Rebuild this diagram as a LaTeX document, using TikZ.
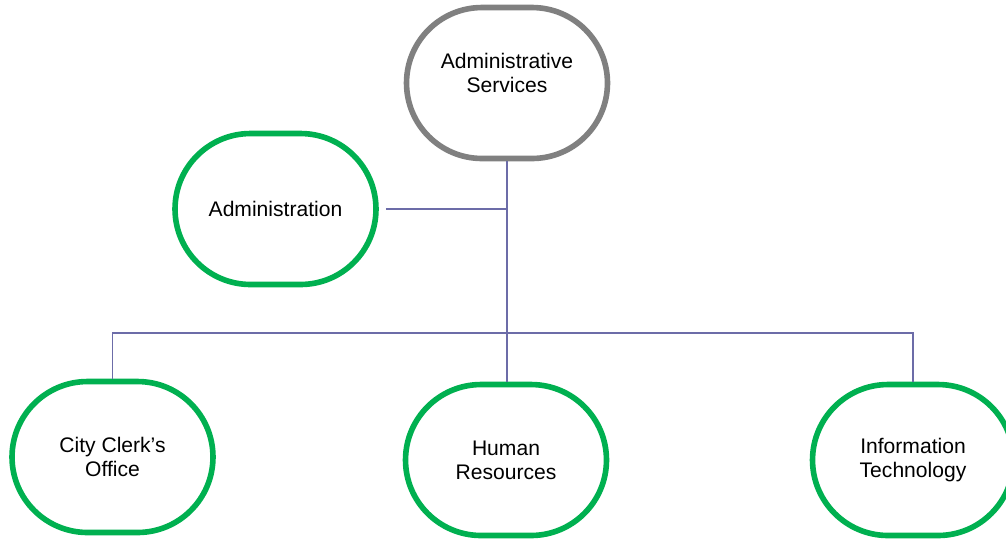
\documentclass[tikz,border=0pt]{standalone}
\usepackage{fontspec}
\setmainfont{Liberation Sans}
\usetikzlibrary{shapes.misc}
\definecolor{unitgreen}{RGB}{0,176,80}
\definecolor{headgray}{RGB}{128,128,128}
\definecolor{linkblue}{RGB}{108,108,168}
\tikzset{
  unit/.style={rounded rectangle, draw=unitgreen, line width=3.2pt, minimum width=4.02cm,
    minimum height=3.02cm, inner sep=0pt, align=center, font=\fontsize{12}{13.6}\selectfont},
  head/.style={unit, draw=headgray, text depth=0.42cm},
  link/.style={draw=linkblue, line width=1.1pt}
}
\begin{document}
\begin{tikzpicture}[x=0.02cm, y=-0.02cm]
\useasboundingbox (0,0) rectangle (1006,539);

%NODES
%Head
\node [head] (head) at (507,83) {Administrative\\Services};
%Staff
\node [unit] (admin) at (275.5,209) {Administration};
%Divisions
\node [unit] (clerk) at (112.5,457) {City Clerk’s\\Office};
\node [unit] (hr) at (506,460) {Human\\Resources};
\node [unit] (it) at (913,460) {Information\\Technology};

%Connectors
\coordinate (bar) at (507,333);
\draw [link] (head.south) -- (head.south |- hr.north);
\draw [link, shorten <=4pt] (admin.east) -- (admin.east -| head.south);
\draw [link] (clerk.north) |- (bar) -| (it.north);

\end{tikzpicture}
\end{document}
